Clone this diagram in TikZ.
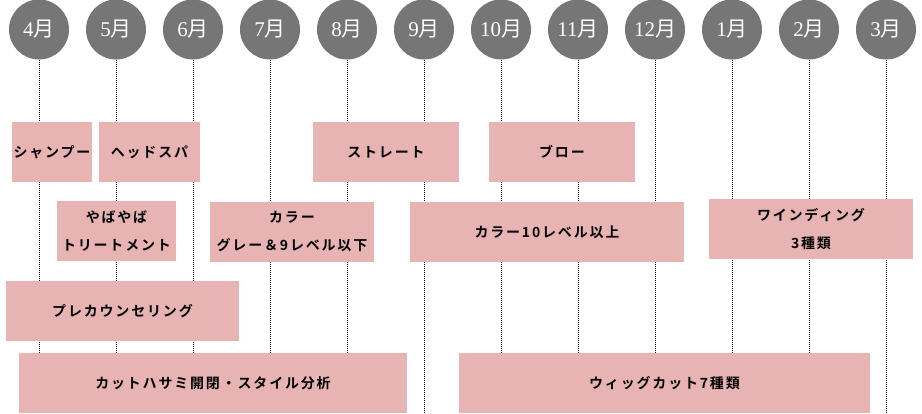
\documentclass[tikz,border=0pt]{standalone}
\usepackage{fontspec}
\newfontfamily\jp{Noto Sans CJK JP}[BoldFont={Noto Sans CJK JP Bold},LetterSpace=13]
\newfontfamily\jpm{Noto Sans CJK JP}
\newfontfamily\mserif{Liberation Serif}
\definecolor{monthgray}{HTML}{767676}
\definecolor{barpink}{HTML}{E8B3B3}
\newcommand{\monlab}[1]{{\mserif #1}{\jpm 月}}
\begin{document}
\begin{tikzpicture}[x=1pt,y=-1pt,
  mcirc/.style={circle,fill=monthgray,minimum size=60pt,inner sep=0pt,text=white,font=\fontsize{21}{21}\selectfont},
  vline/.style={line width=1pt,dash pattern=on 1pt off 1pt,draw=black},
  bar/.style={fill=barpink,draw=none,inner sep=0pt,align=center,text=black,font=\jp\bfseries\fontsize{14}{28}\selectfont}]
\useasboundingbox (0,0) rectangle (922,413);
\foreach \m [count=\i from 0] in {4,5,6,7,8,9,10,11,12,1,2,3}{
  \node[mcirc] (m\i) at (39+77*\i,29.5) {\monlab{\m}};
  \coordinate (e\i) at (39+77*\i,413);
  \draw[vline] (m\i.south) -- (e\i);
}
% row 1
\node[bar,minimum width=80pt,minimum height=60pt] (shampoo) at (52,152) {シャンプー};
\node[bar,minimum width=101pt,minimum height=60pt] (headspa) at (149.5,152) {ヘッドスパ};
\node[bar,minimum width=146pt,minimum height=60pt] (straight) at (386,152) {ストレート};
\node[bar,minimum width=146pt,minimum height=60pt] (blow) at (562,152) {ブロー};
% row 2
\node[bar,minimum width=119pt,minimum height=60pt] (yaba) at (116.5,231) {やばやば\\トリートメント};
\node[bar,minimum width=164pt,minimum height=60pt] (color) at (292,232) {カラー\\グレー＆9レベル以下};
\node[bar,minimum width=274pt,minimum height=60pt] (color10) at (547,232) {カラー10レベル以上};
\node[bar,minimum width=204pt,minimum height=60pt] (winding) at (811,229) {ワインディング\\3種類};
% row 3
\node[bar,minimum width=233pt,minimum height=60pt] (precoun) at (122.5,311) {プレカウンセリング};
% row 4
\node[bar,minimum width=388pt,minimum height=60pt] (cut) at (213,383) {カットハサミ開閉・スタイル分析};
\node[bar,minimum width=411pt,minimum height=60pt] (wig) at (664.5,383) {ウィッグカット7種類};
\end{tikzpicture}
\end{document}
